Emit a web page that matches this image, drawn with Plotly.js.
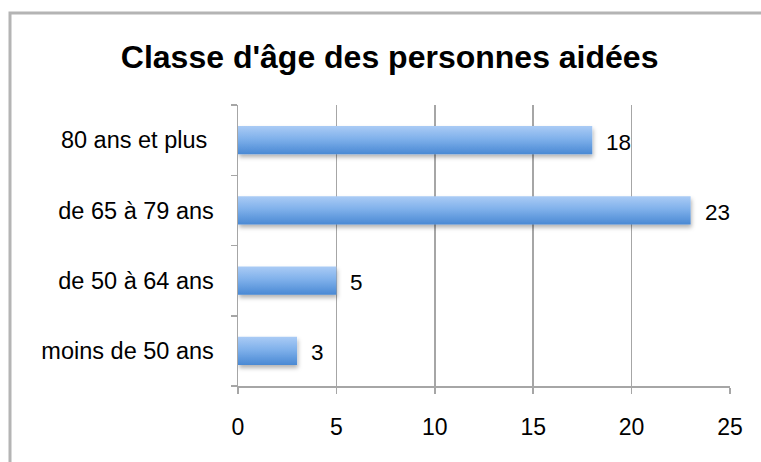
<!DOCTYPE html>
<html>
<head>
<meta charset="utf-8">
<script src="https://cdn.plot.ly/plotly-3.0.1.min.js"></script>
<style>html,body{margin:0;padding:0;background:#fff;}#chart{width:761px;height:462px;}</style>
</head>
<body>
<div id="chart"></div>
<script>
const categories = ["moins de 50 ans", "de 50 à 64 ans", "de 65 à 79 ans", "80 ans et plus\u00a0"];
const values = [3, 5, 23, 18];
const xTicks = [0, 5, 10, 15, 20, 25];

const FONT = "Liberation Sans, Arial, Helvetica, sans-serif";

const trace = {
  type: "bar",
  orientation: "h",
  x: values,
  y: categories,
  marker: { color: "#6ea4e5", line: { width: 0 } },
  hoverinfo: "x+y"
};

const annotations = values.map((v, i) => ({
  x: v, y: categories[i], xref: "x", yref: "y",
  text: String(v), showarrow: false,
  xanchor: "left", yanchor: "middle", xshift: 12, yshift: -2,
  font: { family: FONT, size: 22.5, color: "#000" }
}));

const layout = {
  width: 761, height: 462,
  margin: { l: 238, r: 31, t: 105, b: 76 },
  paper_bgcolor: "#fff", plot_bgcolor: "#fff",
  showlegend: false,
  bargap: 0.6,
  title: {
    text: "<b>Classe d'âge des personnes aidées</b>",
    font: { family: FONT, size: 32, color: "#000" },
    x: 0.512, xref: "container", xanchor: "center",
    y: 1 - 57 / 462, yref: "container", yanchor: "middle"
  },
  xaxis: {
    range: [0, 25], tickvals: xTicks, ticktext: xTicks.map(String),
    showgrid: true, gridcolor: "#a6a6a6", gridwidth: 1.5,
    zeroline: false, showline: true, linecolor: "#a6a6a6", linewidth: 1.5,
    ticks: "outside", ticklen: 6, tickcolor: "#a6a6a6", tickwidth: 1.5,
    ticklabelstandoff: 14,
    tickfont: { family: FONT, size: 23, color: "#000" },
    fixedrange: true
  },
  yaxis: {
    type: "category", categoryorder: "array", categoryarray: categories,
    showgrid: false, zeroline: false, showline: true, linecolor: "#a6a6a6", linewidth: 1.5,
    ticks: "outside", tickson: "boundaries", ticklen: 6, tickcolor: "#a6a6a6", tickwidth: 1.5,
    ticklabelstandoff: 18,
    tickfont: { family: FONT, size: 23.5, color: "#000" },
    fixedrange: true
  },
  annotations: annotations,
  shapes: [{
    type: "rect", xref: "paper", yref: "paper", layer: "below",
    x0: (10 - 238) / 492, x1: 1.2, y0: -0.5, y1: 1 + (105 - 13) / 281,
    line: { color: "#b4b4b4", width: 3 }, fillcolor: "rgba(0,0,0,0)"
  }]
};

Plotly.newPlot("chart", [trace], layout, { displayModeBar: false, staticPlot: true }).then(gd => {
  const svg = gd.querySelector("svg.main-svg");
  const NS = "http://www.w3.org/2000/svg";
  let defs = svg.querySelector("defs");
  if (!defs) { defs = document.createElementNS(NS, "defs"); svg.insertBefore(defs, svg.firstChild); }
  const grad = document.createElementNS(NS, "linearGradient");
  grad.setAttribute("id", "barGrad");
  grad.setAttribute("x1", "0"); grad.setAttribute("y1", "0");
  grad.setAttribute("x2", "0"); grad.setAttribute("y2", "1");
  [["0", "#aacbf5"], ["0.45", "#80b1eb"], ["1", "#4a89d4"]].forEach(([o, c]) => {
    const s = document.createElementNS(NS, "stop");
    s.setAttribute("offset", o); s.setAttribute("stop-color", c);
    grad.appendChild(s);
  });
  defs.appendChild(grad);
  const filt = document.createElementNS(NS, "filter");
  filt.setAttribute("id", "barShadow");
  filt.setAttribute("x", "-5%"); filt.setAttribute("y", "-20%");
  filt.setAttribute("width", "115%"); filt.setAttribute("height", "160%");
  const ds = document.createElementNS(NS, "feDropShadow");
  ds.setAttribute("dx", "1"); ds.setAttribute("dy", "3");
  ds.setAttribute("stdDeviation", "2"); ds.setAttribute("flood-color", "#000");
  ds.setAttribute("flood-opacity", "0.3");
  filt.appendChild(ds);
  defs.appendChild(filt);
  gd.querySelectorAll(".barlayer .point path").forEach(p => {
    p.style.fill = "url(#barGrad)";
    p.setAttribute("filter", "url(#barShadow)");
  });
});
</script>
</body>
</html>
